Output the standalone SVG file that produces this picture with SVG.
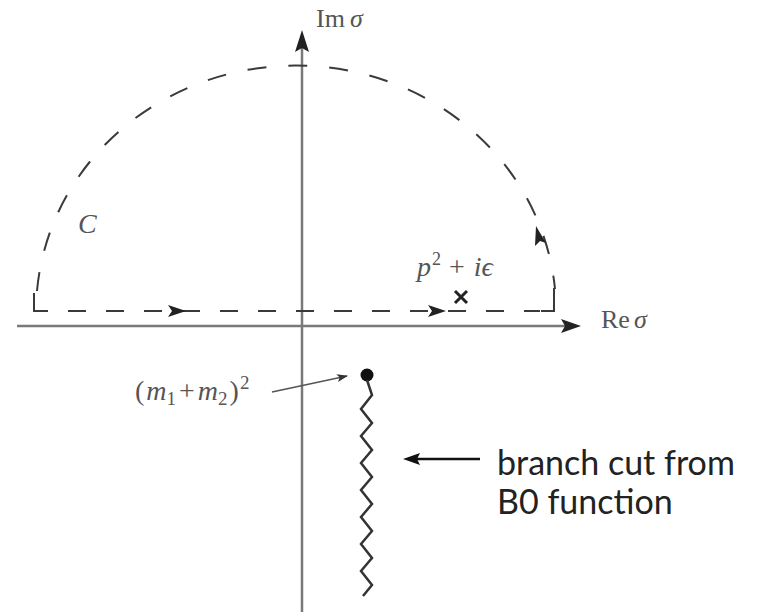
<svg xmlns="http://www.w3.org/2000/svg" width="757" height="615" viewBox="0 0 757 615">
<style>
.axis{stroke:#7a7a7a;stroke-width:2.5;fill:none}
.dash{stroke:#3a3a3a;stroke-width:2;fill:none}
.solid{stroke:#3a3a3a;stroke-width:2;fill:none}
.math{font-family:"Liberation Serif",serif;fill:#555}
.label{font-family:Lato,"Open Sans",sans-serif;font-size:34px;fill:#222}
.ah{fill:#222}
</style>
<defs>
<marker id="tip" markerWidth="11" markerHeight="8" refX="10" refY="4" orient="auto" markerUnits="userSpaceOnUse"><path d="M0,0 L11,4 L0,8 L2.5,4 Z" fill="#333"/></marker>
</defs>
<rect width="757" height="615" fill="#fff"/>
<g id="axes">
<line class="axis" x1="17" y1="326" x2="570" y2="326"/>
<path d="M581,326 L561,319 L565,326 L561,333 Z" class="ah"/>
<line class="axis" x1="302" y1="612" x2="302" y2="42"/>
<path d="M302,30 L295,52 L302,48 L309,52 Z" class="ah"/>
</g>
<g id="contour">
<path class="dash" stroke-dasharray="19 22" d="M37,291 A260,246 0 0 1 555,289"/>
<path class="solid" d="M34,293 L34,311 L48,311"/>
<path class="dash" stroke-dasharray="18 20" d="M68,311 L540,311"/>
<path class="solid" d="M541,311 L554,311 L554,288"/>
<path d="M186,311 L168,305 L172,311 L168,317 Z" class="ah"/>
<path d="M446,311 L428,305 L432,311 L428,317 Z" class="ah"/>
<path d="M536,226 L535,246 L540,241 L546,243 Z" class="ah"/>
</g>
<g id="labels">
<text class="math" x="316" y="27" font-size="26">Im<tspan font-style="italic" dx="5">σ</tspan></text>
<text class="math" x="601" y="328" font-size="26">Re<tspan font-style="italic" dx="4">σ</tspan></text>
<text class="math" x="78" y="233" font-size="28" font-style="italic">C</text>
<text class="math" x="417" y="276" font-size="28"><tspan font-style="italic">p</tspan><tspan font-size="18" dy="-11" dx="1">2</tspan><tspan dy="11" dx="8">+</tspan><tspan font-style="italic" dx="9">iϵ</tspan></text>
<text class="math" x="135" y="400" font-size="28">(<tspan font-style="italic" dx="2">m</tspan><tspan font-size="19" dy="5">1</tspan><tspan dy="-5" dx="3">+</tspan><tspan font-style="italic" dx="3">m</tspan><tspan font-size="19" dy="5">2</tspan><tspan dy="-5" dx="2">)</tspan><tspan font-size="19" dy="-11" dx="1">2</tspan></text>
</g>
<g id="pole">
<path d="M455,291 L467,303 M467,291 L455,303" stroke="#222" stroke-width="3"/>
</g>
<g id="branch">
<line x1="272" y1="392" x2="347" y2="376" stroke="#555" stroke-width="1.5" marker-end="url(#tip)"/>
<circle cx="367" cy="375" r="6.5" fill="#111"/>
<path d="M367,380 L372,395 L361,409 L372,423 L361,436 L372,450 L361,463 L372,477 L361,490 L372,504 L361,517 L372,531 L361,544 L372,558 L361,571 L372,585 L363,596" stroke="#333" stroke-width="2.5" fill="none"/>
</g>
<g id="note">
<line x1="480" y1="459" x2="415" y2="459" stroke="#111" stroke-width="2.5"/>
<path d="M403,459 L420,453 L417,459 L420,465 Z" fill="#111"/>
<text class="label" x="497" y="475">branch cut from</text>
<text class="label" x="497" y="514">B0 function</text>
</g>
</svg>
